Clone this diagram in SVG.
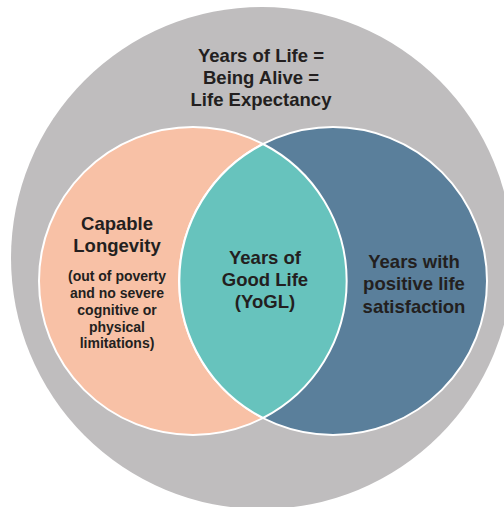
<svg xmlns="http://www.w3.org/2000/svg" width="504" height="507" viewBox="0 0 504 507">
<style>
.t{font-family:"Liberation Sans",Arial,Helvetica,sans-serif;font-weight:bold;fill:#231f20;text-anchor:middle}
.big{font-size:18.5px}
.small{font-size:14px}
.c{stroke:#ffffff;stroke-width:2}
</style>
<rect width="504" height="507" fill="#ffffff"/>
<g id="years-of-life">
<circle cx="262" cy="258" r="251" fill="#bfbdbe"/>
<text class="t big" x="261" y="62">Years of Life =</text>
<text class="t big" x="261" y="84">Being Alive =</text>
<text class="t big" x="261" y="106">Life Expectancy</text>
</g>
<g id="capable-longevity">
<circle class="c" cx="193" cy="281" r="154" fill="#f8c1a6"/>
</g>
<g id="positive-satisfaction">
<circle class="c" cx="333" cy="281" r="154" fill="#5a7f9b"/>
</g>
<g id="yogl">
<clipPath id="clipL"><circle cx="193" cy="281" r="154"/></clipPath>
<circle cx="333" cy="281" r="154" fill="#67c3bd" clip-path="url(#clipL)"/>
<path d="M263 144 A154 154 0 0 0 263 418" fill="none" stroke="#ffffff" stroke-width="2"/>
<path d="M263 144 A154 154 0 0 1 263 418" fill="none" stroke="#ffffff" stroke-width="2"/>
</g>
<g id="labels">
<text class="t big" x="117" y="230">Capable</text>
<text class="t big" x="117" y="252">Longevity</text>
<text class="t small" x="117" y="281">(out of poverty</text>
<text class="t small" x="117" y="298">and no severe</text>
<text class="t small" x="117" y="315">cognitive or</text>
<text class="t small" x="117" y="332">physical</text>
<text class="t small" x="117" y="348">limitations)</text>
<text class="t big" x="265" y="264">Years of</text>
<text class="t big" x="265" y="286">Good Life</text>
<text class="t big" x="265" y="308">(YoGL)</text>
<text class="t big" x="414" y="268">Years with</text>
<text class="t big" x="414" y="290">positive life</text>
<text class="t big" x="414" y="313">satisfaction</text>
</g>
<g id="connectors"></g>
</svg>
